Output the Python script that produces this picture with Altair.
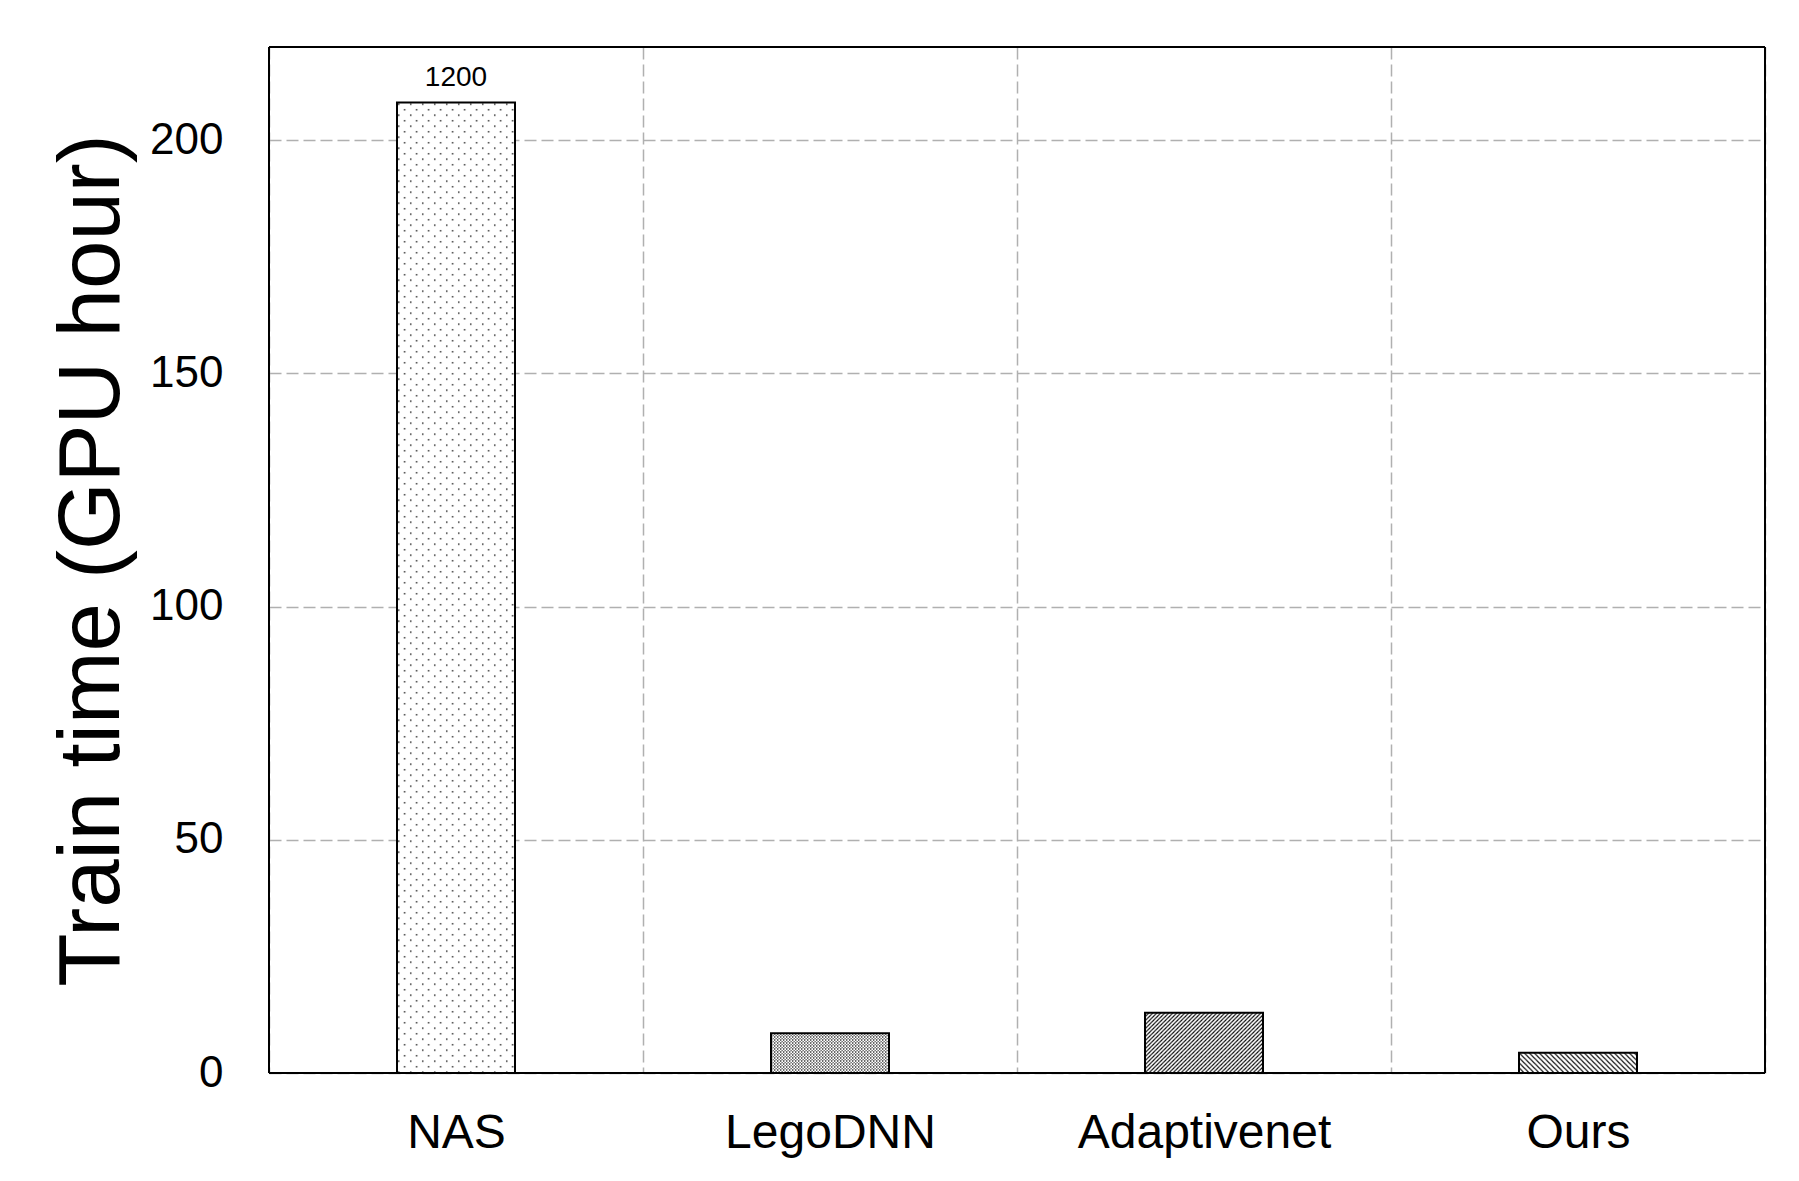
import altair as alt
import pandas as pd
from urllib.parse import quote

# ---- data ----
methods = ["NAS", "LegoDNN", "Adaptivenet", "Ours"]
train_hours = [208.1, 8.5, 12.9, 4.35]
bar_labels = ["1200", "", "", ""]
y_ticks = [0, 50, 100, 150, 200]

FONT = "Liberation Sans"


def svg_pattern(tile_w, tile_h, body):
    svg = (
        "<svg xmlns='http://www.w3.org/2000/svg'>"
        f"<defs><pattern id='p' width='{tile_w}' height='{tile_h}' patternUnits='userSpaceOnUse'>"
        f"{body}</pattern></defs>"
        "<rect width='100%' height='100%' fill='url(#p)'/></svg>"
    )
    return "data:image/svg+xml;charset=utf-8," + quote(svg)


patterns = {
    "NAS": svg_pattern(
        12, 11,
        "<rect x='1' y='1' width='1.4' height='1.4' fill='#111'/>"
        "<rect x='7' y='6.5' width='1.4' height='1.4' fill='#111'/>",
    ),
    "LegoDNN": svg_pattern(
        3, 3,
        "<rect x='0' y='0' width='1.3' height='1.3' fill='#222'/>"
        "<rect x='1.5' y='1.5' width='1.3' height='1.3' fill='#444'/>",
    ),
    "Adaptivenet": svg_pattern(
        4, 4,
        "<path d='M-1,1 l2,-2 M0,4 l4,-4 M3,5 l2,-2' stroke='#000' stroke-width='1.1'/>",
    ),
    "Ours": svg_pattern(
        5, 5,
        "<path d='M-1,4 l2,2 M0,0 l5,5 M4,-1 l2,2' stroke='#000' stroke-width='1.1'/>",
    ),
}

df = pd.DataFrame(
    {
        "method": methods,
        "hours": train_hours,
        "label": bar_labels,
        "pattern": [patterns[m] for m in methods],
    }
)

grid_style = dict(gridDash=[12, 5], gridColor="#b0b0b0", gridWidth=1.5)

x = alt.X(
    "method:N",
    sort=methods,
    scale=alt.Scale(paddingInner=0, paddingOuter=0),
    axis=alt.Axis(
        title=None,
        labelAngle=0,
        labelFont=FONT,
        labelFontSize=48,
        labelColor="black",
        labelPadding=36,
        labelLimit=0,
        ticks=False,
        tickSize=0,
        domain=False,
        grid=True,
        tickBand="extent",
        **grid_style,
    ),
)
y = alt.Y(
    "hours:Q",
    scale=alt.Scale(domain=[0, 220], nice=False, zero=True),
    axis=alt.Axis(
        values=y_ticks,
        title="Train time (GPU hour)",
        titleFont=FONT,
        titleFontSize=87,
        titleFontWeight="normal",
        titleColor="black",
        titlePadding=13,
        titleLimit=0,
        labelFont=FONT,
        labelFontSize=44,
        labelColor="black",
        labelPadding=46,
        ticks=False,
        tickSize=0,
        domain=False,
        grid=True,
        **grid_style,
    ),
)

base = alt.Chart(df).encode(x=x, y=y)
bw = alt.RelativeBandSize(0.3155)

under = base.mark_bar(width=bw, fill="white")
hatch = base.mark_image(width=bw, aspect=False).encode(y2=alt.datum(0), url="pattern:N")
outline = base.mark_bar(width=bw, fill="white", fillOpacity=0, stroke="black", strokeWidth=2)
labels = base.mark_text(
    dy=-16, baseline="alphabetic", fontSize=28, font=FONT, color="black"
).encode(text="label:N")

# plot frame drawn on top of the grid lines
frame_style = dict(color="black", strokeWidth=2)
frame_top = alt.Chart().mark_rule(**frame_style).encode(y=alt.value(0))
frame_bottom = alt.Chart().mark_rule(**frame_style).encode(y=alt.value("height"))
frame_left = alt.Chart().mark_rule(**frame_style).encode(x=alt.value(0))
frame_right = alt.Chart().mark_rule(**frame_style).encode(x=alt.value("width"))

chart = (
    alt.layer(under, hatch, outline, labels,
              frame_top, frame_bottom, frame_left, frame_right, data=df)
    .properties(
        width=1496,
        height=1026,
        autosize="none",
        padding={"left": 261, "top": 39, "right": 26, "bottom": 100},
        background="white",
    )
    .configure_view(stroke=None)
)

chart.save("out.html", embed_options={"renderer": "svg", "actions": False})
